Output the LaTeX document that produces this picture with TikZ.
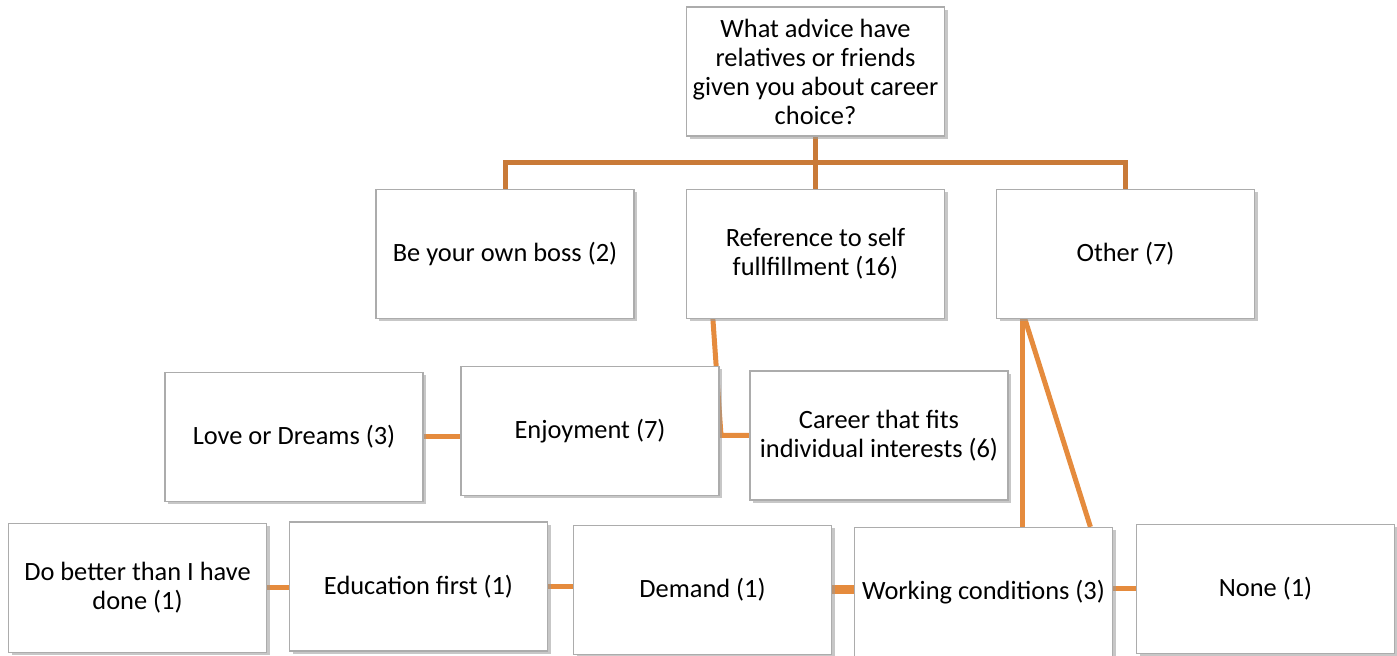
\documentclass[tikz,border=0pt]{standalone}
\usepackage{fontspec}
\setmainfont{Carlito}
\usetikzlibrary{calc,shadows,backgrounds}
\definecolor{linkdark}{RGB}{201,122,56}
\definecolor{linklight}{RGB}{229,139,61}

\begin{document}
\begin{tikzpicture}[x=0.5pt,y=-0.5pt,
	every node/.style={draw=gray!65, line width=0.6pt, fill=white, align=center,
		minimum width=129pt, minimum height=64.5pt, inner sep=2pt,
		font=\fontsize{13.2}{14.5}\selectfont,
		drop shadow={shadow xshift=1.5pt, shadow yshift=-1.5pt, fill=black!40, opacity=0.55}},
	topline/.style={draw=linkdark, line width=2.5pt},
	link/.style={draw=linklight, line width=2.5pt}]
	
	\useasboundingbox (0,0) rectangle (1397,656);
	
	\node (question) at (815.5,71.5) {What advice have\\relatives or friends\\given you about career\\choice?};
	\node (boss) at (505,254) {Be your own boss (2)};
	\node (self) at (815.5,254) {Reference to self\\fullfillment (16)};
	\node (other) at (1125.5,254) {Other (7)};
	\node (love) at (294,437) {Love or Dreams (3)};
	\node (enjoy) at (590,431) {Enjoyment (7)};
	\node (fits) at (879,435.5) {Career that fits\\individual interests (6)};
	\node (better) at (137.5,588) {Do better than I have\\done (1)};
	\node (education) at (418.5,586.5) {Education first (1)};
	\node (demand) at (702.5,590) {Demand (1)};
	\node (working) at (983.5,592) {Working conditions (3)};
	\node (none) at (1265.5,589) {None (1)};
	
	\begin{scope}[on background layer]
		\coordinate (bus) at (815.5,163);
		\coordinate (selfout) at ($(self.south west)+(27,0)$);
		\coordinate (bend) at (721,435.5);
		\coordinate (otherA) at ($(other.south west)+(26.5,0)$);
		\coordinate (otherB) at ($(other.south west)+(29,0)$);
		\coordinate (workB) at ($(working.north west)+(236.5,0)$);
		
		\path[topline] (question) edge (bus);
		\draw[topline] (boss.north) |- (bus) -| (other.north);
		\path[topline] (bus) edge (self.north);
		
		\draw[link] (selfout) -- (bend) -- (fits.west);
		\path[link] (love.east) edge (love.east -| enjoy.west);
		\path[link] (otherA) edge (otherA |- working.north);
		\path[link] (otherB) edge (workB);
		
		\path[link] (better.east) edge (better.east -| education.west);
		\path[link] (education.east) edge (education.east -| demand.west);
		\path[link, line width=4.5pt] (demand.east) edge (demand.east -| working.west);
		\path[link] (none.west -| working.east) edge (none.west);
	\end{scope}
	
\end{tikzpicture}
\end{document}
